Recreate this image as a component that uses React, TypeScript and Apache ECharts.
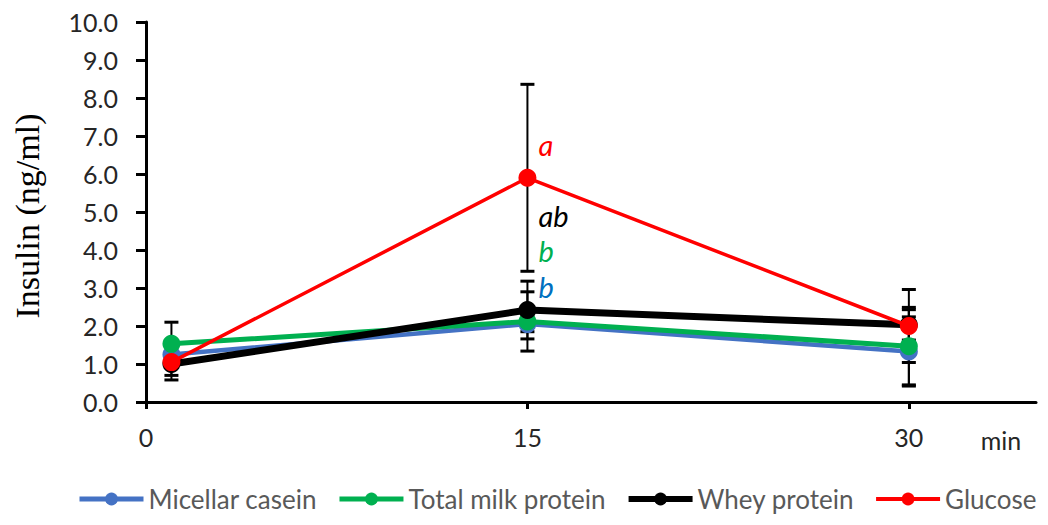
import React, { useEffect, useRef } from "react";
import * as echarts from "echarts";

const timePoints = [1, 15, 30];
const xTickValues = [0, 15, 30];
const seriesNames = ["Micellar casein", "Total milk protein", "Whey protein", "Glucose"];
const micellarCasein = [1.25, 2.05, 1.33];
const totalMilkProtein = [1.53, 2.12, 1.47];
const wheyProtein = [1.0, 2.42, 2.03];
const glucose = [1.05, 5.9, 2.0];
const micellarCaseinErr = [0.3, 0.2, 0.91];
const totalMilkProteinErr = [0.57, 0.78, 1.02];
const wheyProteinErr = [0.3, 0.76, 0.4];
const glucoseErr = [0.47, 2.46, 0.96];
const annotationLabels = ["a", "ab", "b", "b"];
const annotationValues = [6.78, 4.9, 4.0, 3.04];
const annotationTime = 15;

const colors = ["#4472C4", "#00B050", "#000000", "#FF0000"];
const lineWidths = [4.5, 5, 7, 3.5];
const legendLineWidths = [5, 5, 6, 4];
const annotationColors = ["#FF0000", "#000000", "#00B050", "#0070C0"];

const SANS = "Lato, 'Open Sans', sans-serif";

export default function App() {
  const ref = useRef<HTMLDivElement>(null);
  useEffect(() => {
    if (!ref.current) return;
    const chart = echarts.init(ref.current, undefined, { renderer: "svg" });
    const values = [micellarCasein, totalMilkProtein, wheyProtein, glucose];
    const errs = [micellarCaseinErr, totalMilkProteinErr, wheyProteinErr, glucoseErr];
    const errData: number[][] = [];
    values.forEach((arr, si) => {
      arr.forEach((v, i) => {
        errData.push([timePoints[i], v, errs[si][i]]);
      });
    });

    const lineSeries = seriesNames.map((name, si) => ({
      name,
      type: "line",
      data: values[si].map((v, i) => [timePoints[i], v]),
      symbol: "circle",
      symbolSize: 18,
      z: 3 + si,
      itemStyle: { color: colors[si] },
      lineStyle: { color: colors[si], width: lineWidths[si] },
      emphasis: { disabled: true },
    }));

    const option: any = {
      animation: false,
      grid: { left: 146, right: 12, top: 22, bottom: 123 },
      xAxis: {
        type: "value",
        min: 0,
        max: 35,
        interval: 15,
        splitLine: { show: false },
        axisLine: { lineStyle: { color: "#000", width: 3 } },
        axisTick: {
          show: true,
          length: 7,
          lineStyle: { color: "#000", width: 3 },
          customValues: xTickValues,
        },
        axisLabel: {
          customValues: xTickValues,
          color: "#262626",
          fontFamily: SANS,
          fontSize: 25,
          margin: 22,
        },
      },
      yAxis: {
        type: "value",
        min: 0,
        max: 10,
        interval: 1,
        splitLine: { show: false },
        axisLine: { show: true, lineStyle: { color: "#000", width: 3 } },
        axisTick: { show: true, inside: false, length: 10, lineStyle: { color: "#000", width: 3 } },
        axisLabel: {
          color: "#262626",
          fontFamily: SANS,
          fontSize: 25,
          margin: 28,
          formatter: (v: number) => v.toFixed(1),
        },
      },
      legend: {
        data: seriesNames.map((name, si) => ({
          name,
          lineStyle: { width: legendLineWidths[si], color: colors[si] },
        })),
        left: 72,
        top: 481,
        itemWidth: 64,
        itemHeight: 16,
        itemGap: 20,
        textStyle: { color: "#595959", fontFamily: SANS, fontSize: 26 },
        selectedMode: false,
      },
      series: [
        {
          name: "errorbars",
          type: "custom",
          z: 1,
          data: errData,
          encode: { x: 0, y: 1 },
          renderItem: (params: any, api: any) => {
            const x = api.value(0);
            const y = api.value(1);
            const e = api.value(2);
            const top = api.coord([x, y + e]);
            const bot = api.coord([x, y - e]);
            const hw = 7;
            const st = { stroke: "#000", lineWidth: 2 };
            return {
              type: "group",
              children: [
                { type: "line", shape: { x1: top[0], y1: top[1], x2: bot[0], y2: bot[1] }, style: st },
                { type: "line", shape: { x1: top[0] - hw, y1: top[1], x2: top[0] + hw, y2: top[1] }, style: { stroke: "#000", lineWidth: 3 } },
                { type: "line", shape: { x1: bot[0] - hw, y1: bot[1], x2: bot[0] + hw, y2: bot[1] }, style: { stroke: "#000", lineWidth: 3 } },
              ],
            };
          },
          silent: true,
        },
        ...lineSeries,
      ],
    };
    chart.setOption(option);

    const graphics: any[] = annotationLabels.map((t, i) => {
      const p = chart.convertToPixel({ xAxisIndex: 0, yAxisIndex: 0 }, [annotationTime, annotationValues[i]]) as number[];
      return {
        type: "text",
        x: p[0] + 11,
        y: p[1],
        z: 10,
        style: {
          text: t,
          fill: annotationColors[i],
          font: "italic 29px " + SANS,
          align: "left",
          verticalAlign: "middle",
        },
      };
    });
    graphics.push({
      type: "text",
      x: 1001,
      y: 440,
      style: { text: "min", fill: "#262626", font: "25px " + SANS, align: "center", verticalAlign: "middle" },
    });
    graphics.push({
      type: "text",
      x: 27,
      y: 216,
      rotation: Math.PI / 2,
      style: {
        text: "Insulin (ng/ml)",
        fill: "#000",
        font: "34px 'Liberation Serif', 'Times New Roman', serif",
        align: "center",
        verticalAlign: "middle",
      },
    });
    chart.setOption({ graphic: graphics });

    return () => chart.dispose();
  }, []);
  return <div ref={ref} style={{ width: 1048, height: 525, position: "absolute", left: 0, top: 0 }} />;
}
